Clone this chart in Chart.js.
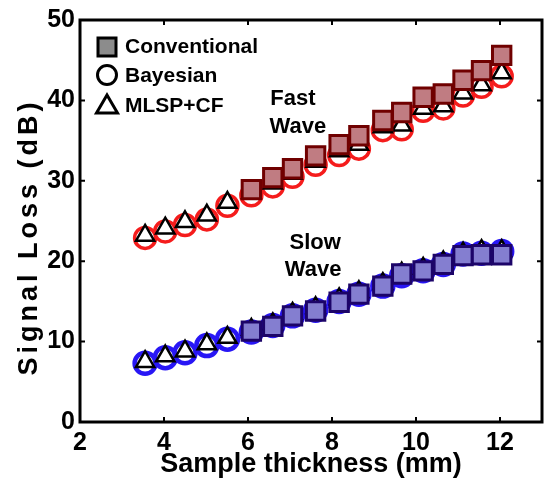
<!DOCTYPE html>
<html>
<head>
<meta charset="utf-8">
<script src="https://cdn.jsdelivr.net/npm/chart.js@4.4.1/dist/chart.umd.min.js"></script>
<style>
  html, body { margin: 0; padding: 0; background: #fff; }
  #wrap { width: 558px; height: 482px; }
</style>
</head>
<body>
<div id="wrap"><canvas id="lossChart" width="558" height="482"></canvas></div>
<script>
// sample thickness (mm) for each measurement
const thickness = [3.55, 4.03, 4.5, 5.02, 5.51, 6.08, 6.59, 7.06, 7.61, 8.17, 8.64, 9.21, 9.66, 10.17, 10.65, 11.12, 11.56, 12.04];

// fast wave signal loss (dB)
const fastConventional = [null, null, null, null, null, 28.9, 30.4, 31.5, 33.1, 34.5, 35.6, 37.5, 38.5, 40.4, 40.8, 42.5, 43.7, 45.6];
const fastBayesian = [22.9, 23.7, 24.5, 25.2, 26.9, 28.2, 29.3, 30.5, 32.0, 33.2, 34.0, 36.3, 36.4, 38.7, 39.0, 40.6, 41.7, 43.0];
const fastMlsp = [23.2, 24.1, 24.9, 25.7, 27.3, 28.5, 29.7, 30.9, 32.4, 33.7, 34.5, 36.7, 36.9, 39.0, 39.3, 40.9, 41.9, 43.4];

// slow wave signal loss (dB)
const slowConventional = [null, null, null, null, null, 11.3, 11.9, 13.2, 13.8, 14.9, 15.9, 16.9, 18.4, 18.8, 19.6, 20.7, 20.8, 20.8];
const slowBayesian = [7.3, 8.0, 8.6, 9.5, 10.3, 11.2, 12.0, 13.2, 13.9, 15.0, 15.9, 16.9, 18.2, 18.8, 19.6, 20.9, 21.0, 21.2];
const slowMlsp = [7.5, 8.2, 8.8, 9.7, 10.5, 11.5, 12.2, 13.5, 14.2, 15.3, 16.2, 17.2, 18.5, 19.1, 19.9, 21.0, 21.3, 21.3];

// axis ticks
const xTicks = [2, 4, 6, 8, 10, 12];
const yTicks = [0, 10, 20, 30, 40, 50];

const FONT = "'Liberation Sans', Arial, Helvetica, sans-serif";

function toPoints(values) {
  return thickness.map((x, i) => ({ x: x, y: values[i] })).filter(p => p.y !== null);
}

// box around the plot with ticks pointing inward, plus the y title
const framePlugin = {
  id: "frame",
  afterDraw(chart) {
    const { ctx, chartArea: a, scales } = chart;
    ctx.save();
    ctx.strokeStyle = "#000";
    ctx.lineWidth = 3;
    ctx.strokeRect(a.left, a.top, a.right - a.left, a.bottom - a.top);
    ctx.lineWidth = 2;
    ctx.beginPath();
    xTicks.forEach(v => {
      const px = scales.x.getPixelForValue(v);
      ctx.moveTo(px, a.bottom); ctx.lineTo(px, a.bottom - 5);
      ctx.moveTo(px, a.top); ctx.lineTo(px, a.top + 5);
    });
    yTicks.forEach(v => {
      const py = scales.y.getPixelForValue(v);
      ctx.moveTo(a.left, py); ctx.lineTo(a.left + 5, py);
      ctx.moveTo(a.right, py); ctx.lineTo(a.right - 5, py);
    });
    ctx.stroke();

    // y axis title, a bit stretched like the original
    ctx.translate(30, scales.y.getPixelForValue(23));
    ctx.rotate(-Math.PI / 2);
    ctx.fillStyle = "#000";
    ctx.font = "bold 27px " + FONT;
    if ("letterSpacing" in ctx) ctx.letterSpacing = "4px";
    ctx.textAlign = "center";
    ctx.textBaseline = "middle";
    ctx.fillText("Signal Loss (dB)", 0, 0);
    ctx.restore();
  }
};

// legend in the top left corner and the two wave labels
const notesPlugin = {
  id: "notes",
  afterDraw(chart) {
    const { ctx, chartArea: a, scales } = chart;
    ctx.save();
    ctx.strokeStyle = "#000";
    ctx.lineWidth = 3;
    const mx = a.left + 27;

    // square
    ctx.fillStyle = "#8c8c8c";
    ctx.fillRect(mx - 9, a.top + 18, 18, 18);
    ctx.strokeRect(mx - 9, a.top + 18, 18, 18);
    // circle
    ctx.beginPath();
    ctx.arc(mx, a.top + 55, 9.5, 0, Math.PI * 2);
    ctx.stroke();
    // triangle
    ctx.beginPath();
    ctx.moveTo(mx, a.top + 75);
    ctx.lineTo(mx + 10.5, a.top + 93);
    ctx.lineTo(mx - 10.5, a.top + 93);
    ctx.closePath();
    ctx.stroke();

    ctx.fillStyle = "#000";
    ctx.font = "bold 21px " + FONT;
    ctx.textBaseline = "middle";
    ctx.textAlign = "left";
    ctx.fillText("Conventional", mx + 18, a.top + 27);
    ctx.fillText("Bayesian", mx + 18, a.top + 56);
    ctx.fillText("MLSP+CF", mx + 18, a.top + 86);

    ctx.font = "bold 22px " + FONT;
    ctx.textAlign = "center";
    ctx.textBaseline = "alphabetic";
    const fx = scales.x.getPixelForValue(7.07);
    const sx = scales.x.getPixelForValue(7.6);
    ctx.fillText("Fast", fx, scales.y.getPixelForValue(39.4));
    ctx.fillText("Wave", fx + 5, scales.y.getPixelForValue(35.9));
    ctx.fillText("Slow", sx, scales.y.getPixelForValue(21.5));
    ctx.fillText("Wave", sx - 2, scales.y.getPixelForValue(18.1));
    ctx.restore();
  }
};

const squareStyle = (fill, edge) => ({
  pointStyle: "rect", pointRadius: 13, pointBorderWidth: 3,
  backgroundColor: fill, borderColor: edge
});
const circleStyle = (edge, w) => ({
  pointStyle: "circle", pointRadius: 10.5, pointBorderWidth: w,
  backgroundColor: "rgba(0,0,0,0)", borderColor: edge
});
const triangleStyle = {
  pointStyle: "triangle", pointRadius: 10.5, pointBorderWidth: 2.5,
  backgroundColor: "#fff", borderColor: "#000"
};

// first dataset is drawn on top
new Chart(document.getElementById("lossChart"), {
  type: "scatter",
  data: {
    datasets: [
      { label: "Conventional (fast)", data: toPoints(fastConventional), ...squareStyle("rgb(192,124,130)", "rgb(112,0,0)") },
      { label: "Conventional (slow)", data: toPoints(slowConventional), ...squareStyle("rgb(132,126,208)", "rgb(28,4,104)") },
      { label: "MLSP+CF (fast)", data: toPoints(fastMlsp), ...triangleStyle },
      { label: "MLSP+CF (slow)", data: toPoints(slowMlsp), ...triangleStyle },
      { label: "Bayesian (fast)", data: toPoints(fastBayesian), ...circleStyle("rgb(245,28,28)", 3.5) },
      { label: "Bayesian (slow)", data: toPoints(slowBayesian), ...circleStyle("rgb(40,22,245)", 4.5) }
    ]
  },
  options: {
    responsive: false,
    animation: false,
    events: [],
    layout: { padding: { left: 0, right: 11, top: 16, bottom: 0 } },
    plugins: {
      legend: { display: false },
      tooltip: { enabled: false }
    },
    scales: {
      x: {
        type: "linear",
        min: 2,
        max: 13,
        afterBuildTicks: s => { s.ticks = xTicks.map(v => ({ value: v })); },
        afterFit: s => { s.height = 60; },
        grid: { display: false, drawTicks: false },
        border: { display: false },
        ticks: { color: "#000", padding: 6, maxRotation: 0, font: { family: FONT, size: 25, weight: "bold" } },
        title: {
          display: true,
          text: "Sample thickness (mm)",
          color: "#000",
          padding: { top: 0, bottom: 1 },
          font: { family: FONT, size: 27, weight: "bold" }
        }
      },
      y: {
        min: 0,
        max: 50,
        afterBuildTicks: s => { s.ticks = yTicks.map(v => ({ value: v })); },
        afterFit: s => { s.width = 80; },
        grid: { display: false, drawTicks: false },
        border: { display: false },
        ticks: { color: "#000", padding: 5, font: { family: FONT, size: 25, weight: "bold" } },
        title: { display: false }
      }
    }
  },
  plugins: [framePlugin, notesPlugin]
});
</script>
</body>
</html>
